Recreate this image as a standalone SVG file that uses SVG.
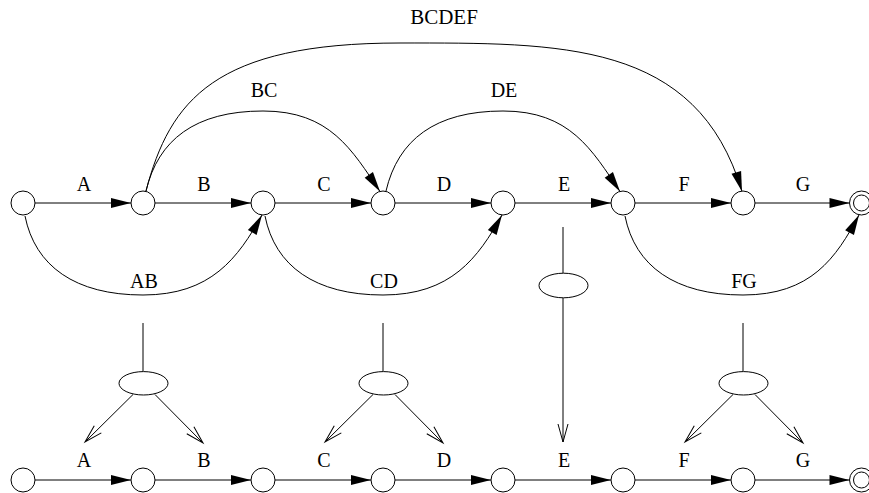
<svg xmlns="http://www.w3.org/2000/svg" width="869" height="493" viewBox="0 0 869 493">
<style>
.n{fill:#fff;stroke:#000;stroke-width:1}
.c{fill:none;stroke:#000;stroke-width:1}
.f{marker-end:url(#ah)}
.o{marker-end:url(#ao)}
text{font-family:"Liberation Serif","Times New Roman",serif;font-size:20px;text-anchor:middle;fill:#000}
.big{font-size:21px}
</style>
<defs>
<marker id="ah" markerUnits="userSpaceOnUse" markerWidth="20" markerHeight="10" refX="20" refY="5" orient="auto" overflow="visible"><path d="M0,0 L20,5 L0,10 z" fill="#000"/></marker>
<marker id="ao" markerUnits="userSpaceOnUse" markerWidth="18" markerHeight="12" refX="18" refY="6" orient="auto" overflow="visible"><path d="M0,1 L18,6 L0,11" fill="none" stroke="#000" stroke-width="1"/></marker>
</defs>
<rect width="869" height="493" fill="#fff"/>
<g id="connectors">
<path class="c f" d="M35,203 H131"/>
<path class="c f" d="M155,203 H251"/>
<path class="c f" d="M275,203 H371"/>
<path class="c f" d="M395,203 H491"/>
<path class="c f" d="M515,203 H611"/>
<path class="c f" d="M635,203 H731"/>
<path class="c f" d="M755,203 H849.5"/>
<path class="c f" d="M25,216 C35,266 75,295 143,295 C211,295 238,258 262,215"/>
<path class="c f" d="M265,216 C275,266 315,295 383,295 C451,295 478,258 502,215"/>
<path class="c f" d="M625,216 C635,266 675,295 743,295 C811,295 836,258 859,215"/>
<path class="c f" d="M146,191 C158,140 195,111 263,111 C330,111 352,150 380,191.5"/>
<path class="c f" d="M386,191 C398,140 435,111 503,111 C570,111 592,150 620,191.5"/>
<path class="c f" d="M146,191 C170,100 215,43 400,43 C560,43 697,40 742,191.5"/>
<text x="84" y="191">A</text>
<text x="204" y="191">B</text>
<text x="324" y="191">C</text>
<text x="444" y="191">D</text>
<text x="564" y="191">E</text>
<text x="684" y="191">F</text>
<text x="803" y="191">G</text>
<text x="144" y="288">AB</text>
<text x="384" y="288">CD</text>
<text x="744" y="288">FG</text>
<text x="264" y="97">BC</text>
<text x="504" y="97">DE</text>
<text class="big" x="444" y="24">BCDEF</text>
<path class="c" d="M143,323 V371.5"/>
<path class="c" d="M383,323 V371.5"/>
<path class="c" d="M563,227 V273"/>
<path class="c" d="M743,323 V371.5"/>
<path class="c o" d="M133,394.5 L85,442"/>
<path class="c o" d="M155,394.5 L203,443"/>
<path class="c o" d="M373,394.5 L325,442"/>
<path class="c o" d="M395,394.5 L443,443"/>
<path class="c o" d="M563,298 V442"/>
<path class="c o" d="M733,394.5 L685,442"/>
<path class="c o" d="M755,394.5 L803,443"/>
<path class="c f" d="M35,480 H131"/>
<path class="c f" d="M155,480 H251"/>
<path class="c f" d="M275,480 H371"/>
<path class="c f" d="M395,480 H491"/>
<path class="c f" d="M515,480 H611"/>
<path class="c f" d="M635,480 H731"/>
<path class="c f" d="M755,480 H849.5"/>
<text x="84" y="467">A</text>
<text x="204" y="467">B</text>
<text x="324" y="467">C</text>
<text x="444" y="467">D</text>
<text x="564" y="467">E</text>
<text x="684" y="467">F</text>
<text x="803" y="467">G</text>
</g>
<g id="t0"><circle class="n" cx="23" cy="203" r="12"/></g>
<g id="t1"><circle class="n" cx="143" cy="203" r="12"/></g>
<g id="t2"><circle class="n" cx="263" cy="203" r="12"/></g>
<g id="t3"><circle class="n" cx="383" cy="203" r="12"/></g>
<g id="t4"><circle class="n" cx="503" cy="203" r="12"/></g>
<g id="t5"><circle class="n" cx="623" cy="203" r="12"/></g>
<g id="t6"><circle class="n" cx="743" cy="203" r="12"/></g>
<g id="t7"><circle class="n" cx="861.5" cy="203" r="12"/><circle class="n" cx="861.5" cy="203" r="8"/></g>
<g id="e1"><ellipse class="n" cx="143.5" cy="383.3" rx="24.5" ry="11.7"/></g>
<g id="e2"><ellipse class="n" cx="383.5" cy="383.3" rx="24.5" ry="11.7"/></g>
<g id="e3"><ellipse class="n" cx="563.5" cy="285.5" rx="24.5" ry="12.3"/></g>
<g id="e4"><ellipse class="n" cx="743.5" cy="383.3" rx="24.5" ry="11.7"/></g>
<g id="b0"><circle class="n" cx="23" cy="480" r="12"/></g>
<g id="b1"><circle class="n" cx="143" cy="480" r="12"/></g>
<g id="b2"><circle class="n" cx="263" cy="480" r="12"/></g>
<g id="b3"><circle class="n" cx="383" cy="480" r="12"/></g>
<g id="b4"><circle class="n" cx="503" cy="480" r="12"/></g>
<g id="b5"><circle class="n" cx="623" cy="480" r="12"/></g>
<g id="b6"><circle class="n" cx="743" cy="480" r="12"/></g>
<g id="b7"><circle class="n" cx="861.5" cy="480" r="12"/><circle class="n" cx="861.5" cy="480" r="8"/></g>
</svg>
